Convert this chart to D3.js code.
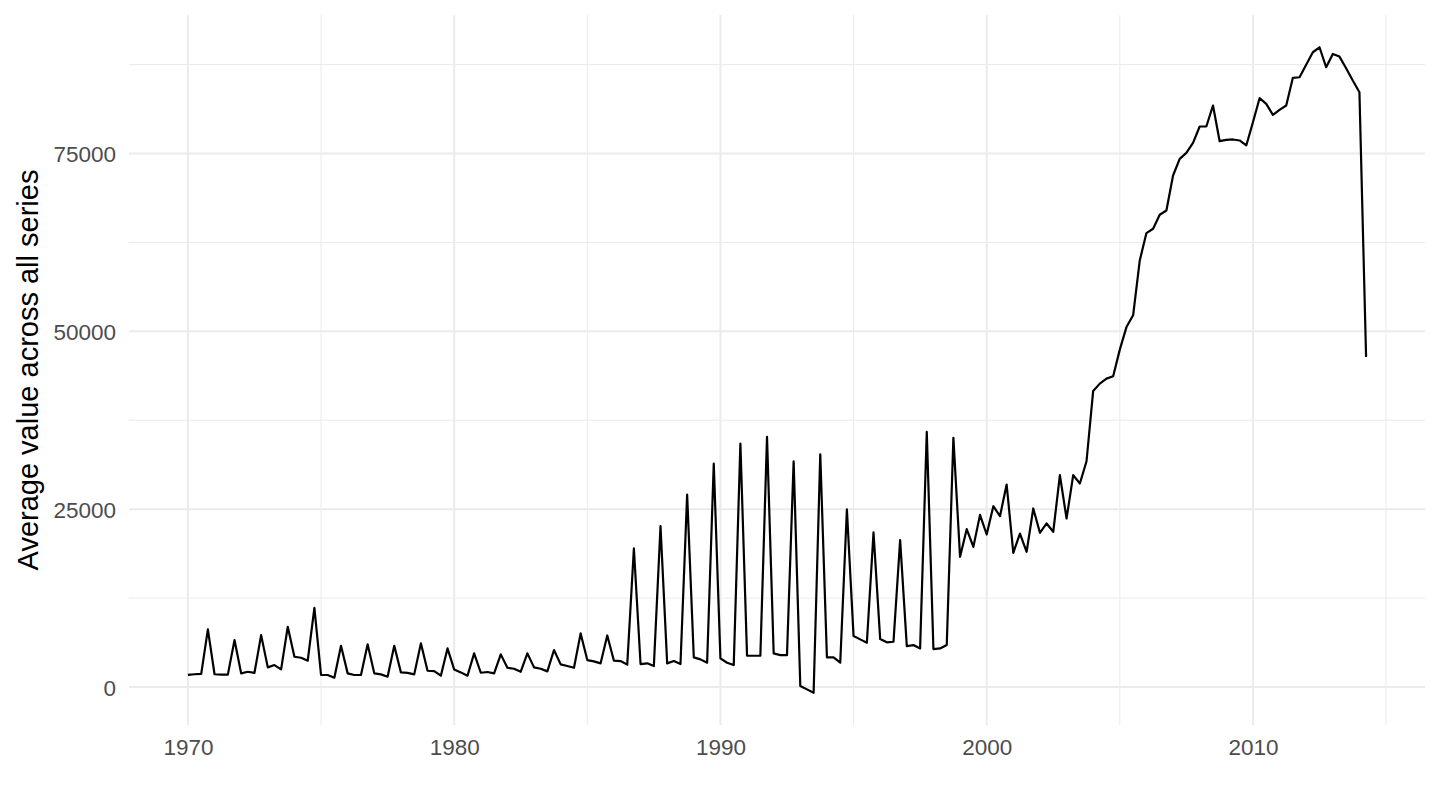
<!DOCTYPE html>
<html>
<head>
<meta charset="utf-8">
<script src="https://cdn.jsdelivr.net/npm/d3@7/dist/d3.min.js"></script>
<style>
  html, body { margin: 0; padding: 0; background: #ffffff; }
  svg { display: block; }
  text { font-family: "Liberation Sans", Arial, Helvetica, sans-serif; }
</style>
</head>
<body>
<svg id="chart" width="1440" height="810"></svg>
<script>
// ---- data (quarterly, starting 1970 Q1) ----
const startYear = 1970;
const periodsPerYear = 4;
const values = [
  1700, 1800, 1850, 8100,      // 1970
  1800, 1750, 1750, 6600,      // 1971
  1920, 2150, 2000, 7300,      // 1972
  2760, 3090, 2480, 8470,      // 1973
  4260, 4120, 3700, 11140,     // 1974
  1690, 1690, 1310, 5800,      // 1975
  1920, 1690, 1690, 6000,      // 1976
  1920, 1780, 1450, 5800,      // 1977
  2060, 2000, 1780, 6140,      // 1978
  2290, 2250, 1590, 5430,      // 1979
  2480, 2060, 1590, 4730,      // 1980
  2010, 2110, 1920, 4590,      // 1981
  2710, 2570, 2150, 4730,      // 1982
  2760, 2570, 2200, 5200,      // 1983
  3190, 2950, 2710, 7540,      // 1984
  3790, 3600, 3330, 7250,      // 1985
  3700, 3650, 3150, 19480,     // 1986
  3230, 3330, 2950, 22610,     // 1987
  3330, 3650, 3230, 27060,     // 1988
  4170, 3890, 3420, 31420,     // 1989
  4030, 3420, 3090, 34230,     // 1990
  4400, 4400, 4400, 35160,     // 1991
  4730, 4490, 4490, 31740,     // 1992
  140, -330, -800, 32720,      // 1993
  4170, 4170, 3420, 24960,     // 1994
  7160, 6700, 6230, 21730,     // 1995
  6740, 6280, 6370, 20650,     // 1996
  5760, 5900, 5430, 35860,     // 1997
  5340, 5430, 5900, 35020,     // 1998
  18300, 22190, 19700, 24200,  // 1999
  21440, 25420, 24020, 28470,  // 2000
  18870, 21580, 19010, 25100,  // 2001
  21680, 22990, 21820, 29780,  // 2002
  23690, 29780, 28610, 31740,  // 2003
  41620, 42650, 43350, 43680,  // 2004
  47430, 50600, 52250, 59970,  // 2005
  63810, 64420, 66390, 66990,  // 2006
  71910, 74250, 75090, 76500,  // 2007
  78790, 78790, 81740, 76730,  // 2008
  76920, 76970, 76830, 76130,  // 2009
  79400, 82770, 81980, 80430,  // 2010
  81140, 81740, 85630, 85720,  // 2011
  87460, 89230, 89930, 87120,  // 2012
  88990, 88620, 86980, 85250,  // 2013
  83610, 46390                 // 2014
];
const xTicks = [1970, 1980, 1990, 2000, 2010];
const xMinor = [1975, 1985, 1995, 2005, 2015];
const yTicks = [0, 25000, 50000, 75000];
const yMinor = [12500, 37500, 62500, 87500];
const yTitle = "Average value across all series";

// ---- build ----
const data = values.map((v, i) => ({ t: startYear + i / periodsPerYear, v }));

const panel = { left: 129, right: 1425, top: 15, bottom: 725 };

function expand(ext) {
  const d = (ext[1] - ext[0]) * 0.05;
  return [ext[0] - d, ext[1] + d];
}

const x = d3.scaleLinear()
  .domain(expand(d3.extent(data, d => d.t)))
  .range([panel.left, panel.right]);
const y = d3.scaleLinear()
  .domain(expand(d3.extent(data, d => d.v)))
  .range([panel.bottom, panel.top]);

const svg = d3.select("#chart");
const grid = svg.append("g");

// minor grid
grid.selectAll(".ymin").data(yMinor).join("line")
  .attr("x1", panel.left).attr("x2", panel.right)
  .attr("y1", d => y(d)).attr("y2", d => y(d))
  .attr("stroke", "#ebebeb").attr("stroke-width", 1);
grid.selectAll(".xmin").data(xMinor.filter(d => x(d) <= panel.right)).join("line")
  .attr("y1", panel.top).attr("y2", panel.bottom)
  .attr("x1", d => x(d)).attr("x2", d => x(d))
  .attr("stroke", "#ebebeb").attr("stroke-width", 1);
// major grid
grid.selectAll(".ymaj").data(yTicks).join("line")
  .attr("x1", panel.left).attr("x2", panel.right)
  .attr("y1", d => y(d)).attr("y2", d => y(d))
  .attr("stroke", "#ebebeb").attr("stroke-width", 2);
grid.selectAll(".xmaj").data(xTicks).join("line")
  .attr("y1", panel.top).attr("y2", panel.bottom)
  .attr("x1", d => x(d)).attr("x2", d => x(d))
  .attr("stroke", "#ebebeb").attr("stroke-width", 2);

// axes (labels only, ggplot theme_minimal style)
const xAxis = d3.axisBottom(x).tickValues(xTicks).tickFormat(d3.format("d")).tickSize(0).tickPadding(0);
const gx = svg.append("g").attr("transform", `translate(0,${panel.bottom})`).call(xAxis);
gx.select(".domain").remove();
gx.selectAll("text")
  .attr("y", 30).attr("dy", null)
  .attr("fill", "#4d4d4d").style("font-size", "22.5px")
  .style("font-family", '"Liberation Sans", Arial, sans-serif');

const yAxis = d3.axisLeft(y).tickValues(yTicks).tickFormat(d3.format("d")).tickSize(0).tickPadding(0);
const gy = svg.append("g").attr("transform", `translate(116,0)`).call(yAxis);
gy.select(".domain").remove();
gy.selectAll("text")
  .attr("x", 0).attr("dy", "0.36em")
  .attr("fill", "#4d4d4d").style("font-size", "22.5px")
  .style("font-family", '"Liberation Sans", Arial, sans-serif');

// y title
svg.append("text")
  .attr("transform", `translate(38,${(panel.top + panel.bottom) / 2}) rotate(-90)`)
  .attr("text-anchor", "middle")
  .attr("fill", "#000000")
  .style("font-size", "29px")
  .text(yTitle);

// line
const line = d3.line().x(d => x(d.t)).y(d => y(d.v));
svg.append("path")
  .datum(data)
  .attr("fill", "none")
  .attr("stroke", "#000000")
  .attr("stroke-width", 2.2)
  .attr("stroke-linejoin", "round")
  .attr("d", line);
</script>
</body>
</html>
